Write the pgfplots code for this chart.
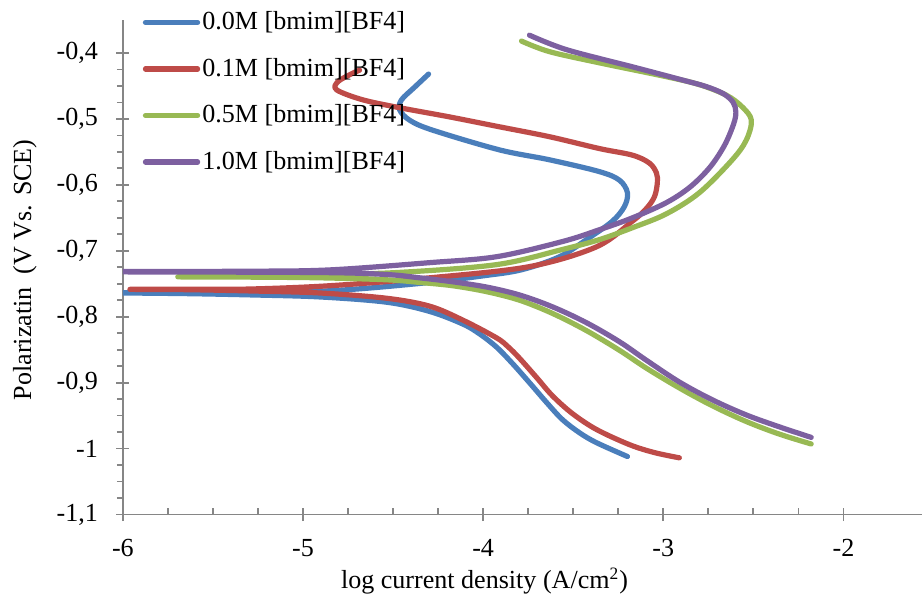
\documentclass[border=0pt]{standalone}
\usepackage{fontspec}
\setmainfont{Liberation Serif}
\usepackage{pgfplots}
\pgfplotsset{compat=1.18}
\definecolor{cBlue}{HTML}{4A7EBB}
\definecolor{cRed}{HTML}{BE4B48}
\definecolor{cGreen}{HTML}{98B954}
\definecolor{cPurple}{HTML}{7D60A0}
\definecolor{axgray}{HTML}{868686}
\begin{document}
\begin{tikzpicture}[font=\fontsize{12}{14}\selectfont]
\begin{axis}[
  name=ax,
  scale only axis,
  width=368pt, height=227.7pt,
  xmin=-6, xmax=-1.563,
  ymin=-1.1, ymax=-0.35,
  axis lines=left,
  axis line style={-, axgray, line width=0.8pt},
  xtick={-6,-5,-4,-3,-2},
  xticklabels={-6,-5,-4,-3,-2},
  ytick={-1.1,-1,-0.9,-0.8,-0.7,-0.6,-0.5,-0.4},
  yticklabels={{-1,1},{-1},{-0,9},{-0,8},{-0,7},{-0,6},{-0,5},{-0,4}},
  minor x tick num=3,
  minor y tick num=3,
  tick align=center,
  major tick length=6pt,
  minor tick length=2.8pt,
  every tick/.style={axgray, line width=0.8pt},
  minor x tick style={yshift=1.4pt},
  minor y tick style={xshift=-1.4pt},
  xticklabel style={yshift=-5pt},
  yticklabel style={xshift=-5pt},
  xlabel={log current density (A/cm\textsuperscript{2})},
  ylabel={Polarizatin\ \ (V Vs. SCE)},
  xlabel style={at={(axis description cs:0.4525,-0.135)}, anchor=center},
  ylabel style={at={(axis description cs:-0.1225,0.495)}, anchor=center},
  clip=true,
  legend cell align=left,
  legend style={draw=none, fill=none, at={(axis description cs:0,1)}, anchor=north west,
    xshift=9pt, yshift=5pt, row sep=9.6pt, inner sep=0pt, nodes={inner sep=1pt}},
  legend image code/.code={\draw[#1, line width=2.4pt, line cap=round] (0pt,0pt) -- (24pt,0pt);},
  every axis plot/.append style={line width=2.4pt, line cap=round, line join=round, smooth, tension=0.55},
]
\addplot[cBlue] coordinates {
(-3.199,-1.012) (-3.371,-0.991) (-3.465,-0.976) (-3.560,-0.956) (-3.648,-0.930)
(-3.743,-0.900) (-3.837,-0.871) (-3.926,-0.846) (-4.020,-0.826) (-4.114,-0.811)
(-4.297,-0.792) (-4.536,-0.778) (-4.907,-0.770) (-5.279,-0.767) (-5.645,-0.765)
(-6.000,-0.764) (-6.100,-0.764)
(-6.000,-0.7635) (-5.500,-0.763) (-5.000,-0.762) (-4.700,-0.758) (-4.297,-0.748)
(-4.000,-0.738) (-3.790,-0.729) (-3.576,-0.709) (-3.410,-0.680) (-3.282,-0.655)
(-3.216,-0.633) (-3.199,-0.612) (-3.243,-0.593) (-3.354,-0.580) (-3.632,-0.562)
(-3.909,-0.547) (-4.281,-0.517) (-4.408,-0.502) (-4.464,-0.486) (-4.453,-0.471)
(-4.381,-0.452) (-4.303,-0.432)
};
\addlegendentry{0.0M [bmim][BF4]}
\addplot[cRed] coordinates {
(-2.911,-1.014) (-3.050,-1.006) (-3.188,-0.994) (-3.371,-0.971) (-3.504,-0.947)
(-3.615,-0.920) (-3.704,-0.892) (-3.798,-0.863) (-3.860,-0.846) (-3.926,-0.832)
(-4.114,-0.805) (-4.297,-0.784) (-4.536,-0.772) (-4.907,-0.764) (-5.279,-0.761)
(-5.645,-0.759) (-5.961,-0.7585)
(-5.645,-0.7583) (-5.296,-0.758) (-4.852,-0.753) (-4.297,-0.741) (-3.743,-0.724)
(-3.371,-0.694) (-3.171,-0.655) (-3.094,-0.636) (-3.049,-0.618) (-3.033,-0.597)
(-3.038,-0.582) (-3.077,-0.567) (-3.171,-0.555) (-3.354,-0.545) (-3.632,-0.527)
(-3.909,-0.512) (-4.186,-0.497) (-4.464,-0.483) (-4.669,-0.471) (-4.813,-0.456)
(-4.808,-0.444) (-4.741,-0.433) (-4.686,-0.426)
};
\addlegendentry{0.1M [bmim][BF4]}
\addplot[cGreen] coordinates {
(-2.179,-0.993) (-2.356,-0.978) (-2.539,-0.959) (-2.728,-0.935) (-2.911,-0.908)
(-3.094,-0.878) (-3.243,-0.851) (-3.427,-0.821) (-3.615,-0.795) (-3.798,-0.775)
(-3.981,-0.762) (-4.170,-0.753) (-4.353,-0.748) (-4.536,-0.744) (-4.907,-0.741)
(-5.279,-0.740) (-5.695,-0.7395)
(-5.296,-0.738) (-4.907,-0.736) (-4.480,-0.733) (-3.926,-0.721) (-3.560,-0.698)
(-3.354,-0.683) (-3.171,-0.665) (-2.983,-0.644) (-2.800,-0.612) (-2.617,-0.562)
(-2.539,-0.532) (-2.511,-0.502) (-2.561,-0.482) (-2.650,-0.464) (-2.800,-0.448)
(-2.983,-0.436) (-3.354,-0.415) (-3.632,-0.398) (-3.787,-0.382)
};
\addlegendentry{0.5M [bmim][BF4]}
\addplot[cPurple] coordinates {
(-2.179,-0.983) (-2.356,-0.967) (-2.539,-0.949) (-2.728,-0.926) (-2.911,-0.899)
(-3.094,-0.866) (-3.243,-0.838) (-3.427,-0.809) (-3.615,-0.785) (-3.798,-0.767)
(-3.981,-0.755) (-4.170,-0.747) (-4.353,-0.741) (-4.536,-0.736) (-4.907,-0.733)
(-6.000,-0.732) (-6.100,-0.732)
(-6.000,-0.7315) (-5.296,-0.731) (-4.852,-0.729) (-4.297,-0.718) (-3.926,-0.709)
(-3.560,-0.686) (-3.354,-0.668) (-3.171,-0.650) (-2.983,-0.627) (-2.850,-0.603)
(-2.740,-0.573) (-2.660,-0.540) (-2.610,-0.508) (-2.597,-0.490) (-2.612,-0.475)
(-2.665,-0.462) (-2.761,-0.451) (-2.894,-0.441) (-3.171,-0.421) (-3.537,-0.395)
(-3.743,-0.373)
};
\addlegendentry{1.0M [bmim][BF4]}
\end{axis}
\path (ax.south west) ++(-56.58pt,-40.02pt) rectangle ++(424.58pt,276.92pt);
\end{tikzpicture}
\end{document}
